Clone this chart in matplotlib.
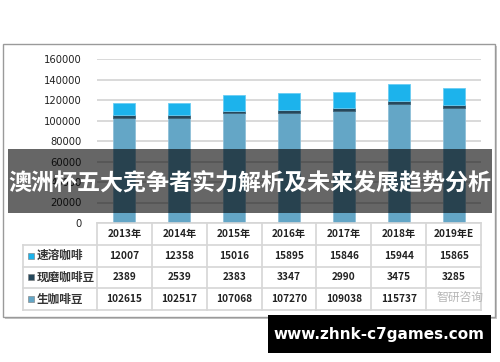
import matplotlib
matplotlib.use("Agg")
import matplotlib.pyplot as plt
from matplotlib.patches import Rectangle
import numpy as np

plt.rcParams['font.family'] = ['Noto Sans CJK SC', 'DejaVu Sans']

years = ["2013年", "2014年", "2015年", "2016年", "2017年", "2018年", "2019年E"]
series_names = ["速溶咖啡", "现磨咖啡豆", "生咖啡豆"]
instant = [12007, 12358, 15016, 15895, 15846, 15944, 15865]
ground = [2389, 2539, 2383, 3347, 2990, 3475, 3285]
green = [102615, 102517, 107068, 107270, 109038, 115737, 112250]
yticks = [0, 20000, 40000, 60000, 80000, 100000, 120000, 140000, 160000]

colors = {"速溶咖啡": "#1CB3EC", "现磨咖啡豆": "#26485C", "生咖啡豆": "#64A6C6"}
edge = {"速溶咖啡": "#6ACDF3", "现磨咖啡豆": "#3E6275", "生咖啡豆": "#8FC0D8"}

W, H = 500, 362
fig = plt.figure(figsize=(W / 100, H / 100), dpi=100)

def fx(px):
    return px / W

def fy(py):
    return 1 - py / H

# outer chart frame
fig.patches.append(Rectangle((fx(5), fy(319)), fx(492) , (317 - 44) / H,
                             transform=fig.transFigure, facecolor="#c8c8c8",
                             edgecolor="none", zorder=-2))
fig.patches.append(Rectangle((fx(3), fy(317)), fx(492), (317 - 44) / H,
                             transform=fig.transFigure, facecolor="white",
                             edgecolor="#9a9a9a", linewidth=1.0, zorder=-1))

# main axes
ax_l, ax_r, ax_t, ax_b = 97, 481, 59, 223
ax = fig.add_axes([fx(ax_l), fy(ax_b), (ax_r - ax_l) / W, (ax_b - ax_t) / H])
ax.set_facecolor("none")
n = len(years)
x = np.arange(n)
ax.set_xlim(-0.5, n - 0.5)
ax.set_ylim(0, 160000)
ax.set_yticks(yticks)
ax.set_yticklabels([str(v) for v in yticks], fontsize=7.2, color="#222222",
                   family=['DejaVu Sans'])
ax.tick_params(axis='y', length=0, pad=11)
ax.tick_params(axis='x', length=0, labelbottom=False)
ax.yaxis.grid(True, color="#d9d9d9", linewidth=1.4)
ax.set_axisbelow(True)
for s in ax.spines.values():
    s.set_visible(False)

bw = 0.40
b1 = np.array(green)
b2 = b1 + np.array(ground)
ax.bar(x, green, bw, color=colors["生咖啡豆"], edgecolor=edge["生咖啡豆"], linewidth=0.6, zorder=3)
ax.bar(x, ground, bw, bottom=b1, color=colors["现磨咖啡豆"], edgecolor=edge["现磨咖啡豆"], linewidth=0.6, zorder=3)
ax.bar(x, instant, bw, bottom=b2, color=colors["速溶咖啡"], edgecolor=edge["速溶咖啡"], linewidth=0.6, zorder=3)

# data table axes
tl, tr, tt, tb = 23, 481, 223, 310
tax = fig.add_axes([fx(tl), fy(tb), (tr - tl) / W, (tb - tt) / H])
tax.axis("off")
col_w = (ax_r - ax_l) / n
left_lab = -0.5 - (ax_l - tl) / col_w
tax.set_xlim(left_lab, n - 0.5)
tax.set_ylim(4, 0)
gc = "#d6d6d6"
tax.plot([-0.5, n - 0.5], [0, 0], color=gc, lw=1.2, clip_on=False)
for r in [1, 2, 3, 4]:
    tax.plot([left_lab, n - 0.5], [r, r], color=gc, lw=1.2, clip_on=False)
for c in range(n + 1):
    tax.plot([c - 0.5, c - 0.5], [0, 4], color=gc, lw=1.2, clip_on=False)
tax.plot([left_lab, left_lab], [1, 4], color=gc, lw=1.2, clip_on=False)

for i, yr in enumerate(years):
    tax.text(i, 0.5, yr, ha="center", va="center", fontsize=7.3,
             fontweight="bold", color="#222222")
rows = [instant, ground, green]
for r, (name, vals) in enumerate(zip(series_names, rows)):
    yy = r + 1.5
    tax.add_patch(Rectangle((left_lab + 0.09, yy - 0.14), 0.11, 0.28,
                            facecolor=colors[name], edgecolor="#7a7a7a",
                            linewidth=0.4, clip_on=False))
    tax.text(left_lab + 0.25, yy, name, ha="left", va="center", fontsize=8.4,
             fontweight="bold", color="#333333")
    for i, v in enumerate(vals):
        if r == 2 and i == n - 1:
            continue
        tax.text(i, yy, str(v), ha="center", va="center", fontsize=7.3,
                 fontweight="bold", color="#222222")

# faint source watermark
fig.text(fx(460), fy(297), "智研咨询", ha="center", va="center", fontsize=8.5,
         color="#b5b5b5")

# title banner
fig.patches.append(Rectangle((fx(8), fy(213)), (492 - 8) / W, (213 - 149) / H,
                             transform=fig.transFigure, facecolor="black",
                             alpha=0.6, edgecolor="none", zorder=10))
fig.text(fx(250), fy(183), "澳洲杯五大竞争者实力解析及未来发展趋势分析",
         ha="center", va="center", fontsize=16.6, fontweight="bold",
         color="white", zorder=11)

# url box
fig.patches.append(Rectangle((fx(268), fy(353)), (491 - 268) / W, (353 - 315) / H,
                             transform=fig.transFigure, facecolor="black",
                             edgecolor="none", zorder=10))
fig.text(fx(379), fy(334), "www.zhnk-c7games.com", ha="center", va="center",
         fontsize=11, fontweight="bold", color="white", zorder=11,
         family=['DejaVu Sans'])

fig.savefig("out.png", dpi=100)
